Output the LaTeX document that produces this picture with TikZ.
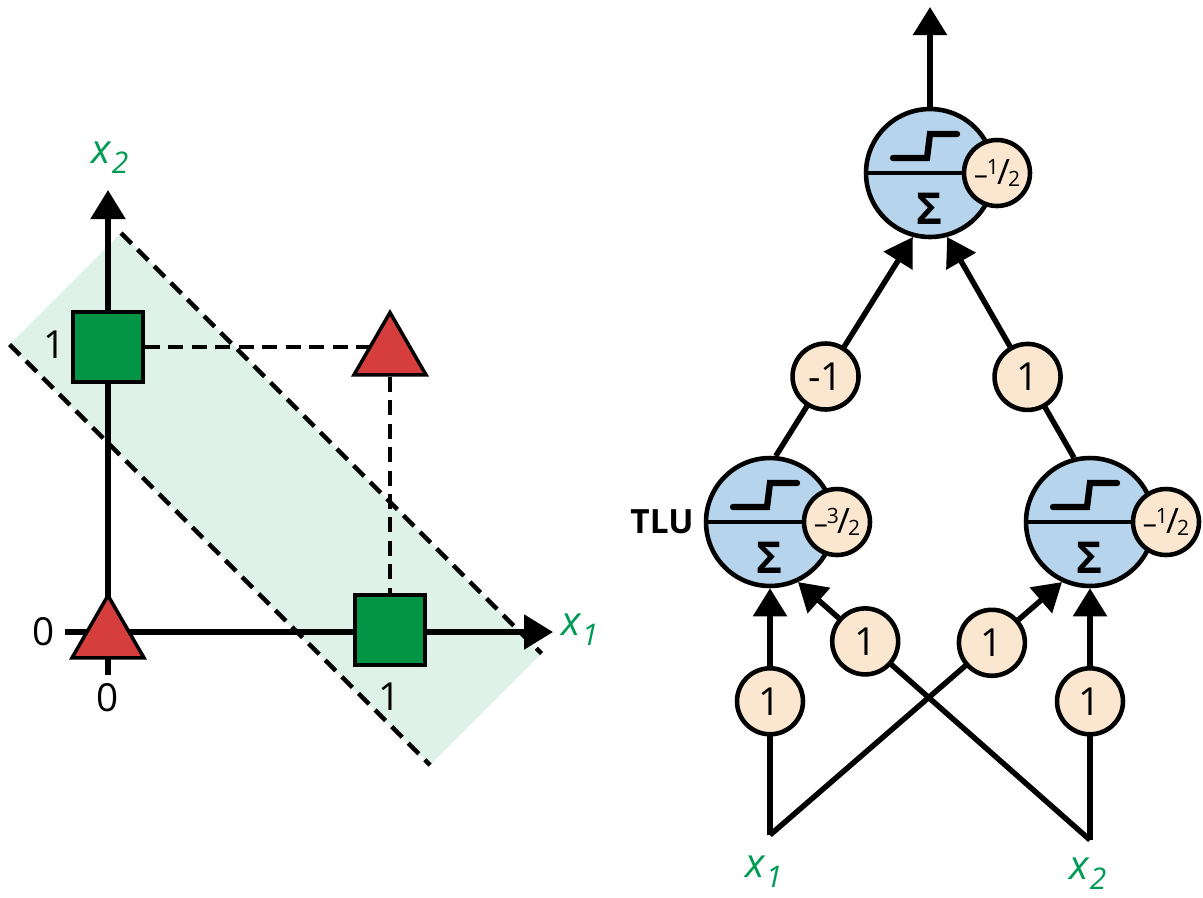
\documentclass[tikz,border=0pt]{standalone}
\usepackage{fontspec}
\setmainfont{Open Sans}
\usetikzlibrary{arrows.meta, positioning, shapes.geometric, backgrounds}
\usepackage{xcolor}

\definecolor{bandgreen}{RGB}{222,242,234}
\definecolor{sqgreen}{RGB}{0,148,68}
\definecolor{trired}{RGB}{214,62,62}
\definecolor{labgreen}{RGB}{0,155,85}
\definecolor{tlublue}{RGB}{182,212,236}
\definecolor{wcream}{RGB}{251,230,207}

\newcommand{\xsub}[1]{x\kern0.02em\raisebox{-0.45ex}{\fontsize{17}{17}\selectfont #1}}
\newcommand{\negfrac}[2]{\fontsize{16}{16}\selectfont
  --\kern-0.04em\raisebox{0.36em}{\fontsize{12}{12}\selectfont #1}\kern-0.06em
  {\fontsize{20}{20}\selectfont /}\kern-0.07em\raisebox{-0.08em}{\fontsize{12}{12}\selectfont #2}}

\begin{document}
\begin{tikzpicture}[
  x=0.02cm, y=-0.02cm,
  every node/.style={font=\fontsize{22}{22}\selectfont},
  arr/.style={-{Triangle[length=0.56cm, width=0.66cm]}, line width=3.1pt},
  axis/.style={-{Triangle[length=0.58cm, width=0.68cm]}, line width=3.1pt},
  sepline/.style={dash pattern=on 0.3cm off 0.17cm, line width=2.5pt},
  sq/.style={rectangle, draw, line width=2pt, fill=sqgreen, minimum size=1.4cm, inner sep=0pt},
  tri/.style={regular polygon, regular polygon sides=3, draw, line width=2pt, fill=trired, minimum size=1.66cm, inner sep=0pt},
  tlu/.style={circle, draw, line width=2.6pt, fill=tlublue, minimum size=2.56cm, inner sep=0pt},
  bias/.style={circle, draw, line width=2.6pt, fill=wcream, minimum size=1.32cm, inner sep=0pt},
  weight/.style={bias, font=\fontsize{22}{22}\selectfont},
  stepfn/.style={line width=3.6pt, line cap=round},
  lbl/.style={text=labgreen, font=\itshape\fontsize{23}{23}\selectfont}
]
\useasboundingbox (0,0) rectangle (1203,897);

% XOR plane
\node[sq]  (sqA)  at (108,347) {};
\node[sq]  (sqB)  at (390,630) {};
\node[tri] (triO) at (108,637) {};
\node[tri] (triB) at (390,354) {};

\coordinate (xs) at (65,632);
\coordinate (xe) at (553,632);
\coordinate (ys) at (108,675);
\coordinate (ye) at (108,190);

\begin{scope}[on background layer]
  \fill[bandgreen] (121,233) -- (541.5,653.5) -- (430,765) -- (9.5,344.5) -- cycle;
  \draw[sepline] (121,233) -- (541.5,653.5);
  \draw[sepline] (9.5,344.5) -- (430,765);
  \draw[sepline] (sqA) -- (triB |- sqA);
  \draw[sepline] (triB) -- (sqB);
  \draw[axis] (xs) -- (xe);
  \draw[axis] (ys) -- (ye);
\end{scope}

\node (zeroL) at (44,632) {0};
\node (zeroB) at (108,698) {0};
\node (oneB)  at (390,697) {1};
\node (oneL)  at (55,345)  {1};
\node[lbl] (ax1) at (580,630) {\xsub{1}};
\node[lbl] (ax2) at (110,158) {\xsub{2}};

% network
\node[tlu] (top)  at (930,173) {};
\node[tlu] (tluA) at (770,522) {};
\node[tlu] (tluB) at (1090,522) {};

\foreach \n in {top,tluA,tluB}{
  \draw[line width=2.2pt] (\n.west) -- (\n.east);
  \draw[stepfn] ([shift={(-37,-15)}]\n.center) -- ++(34,0) -- ++(3,-24) -- ++(27,0);
  \node (sig\n) at ([shift={(0,36)}]\n.center) {\bfseries\fontsize{25}{25}\selectfont Σ};
}

\node[bias] (bTop) at (997,173)  {\negfrac{1}{2}};
\node[bias] (bA)   at (837,522)  {\negfrac{3}{2}};
\node[bias] (bB)   at (1166,522) {\negfrac{1}{2}};

\node[font=\bfseries\fontsize{19}{19}\selectfont] (tlulbl) at (662,522) {TLU};

\coordinate (in1) at (770,835);
\coordinate (in2) at (1090,840);
\coordinate (out) at (930,7);
\node[lbl] (in1lbl) at (764,872) {\xsub{1}};
\node[lbl] (in2lbl) at (1088,874) {\xsub{2}};

\draw[arr] (in1) -- node[weight, pos=0.542] (w11) {1} (tluA);
\draw[arr] (in2) -- node[weight, pos=0.551] (w22) {1} (tluB);
\draw[arr] (in1) -- node[weight, pos=0.76] (w12) {1} (tluB.245);
\draw[arr] (in2) -- node[weight, pos=0.77] (w21) {1} (tluA.295);
\draw[arr] (tluA.85) -- node[weight, pos=0.363] (wA) {-1} (top.255);
\draw[arr] (tluB.104) -- node[weight, pos=0.366] (wB) {1} (top.285);
\draw[arr] (top) -- (out);

\end{tikzpicture}
\end{document}
